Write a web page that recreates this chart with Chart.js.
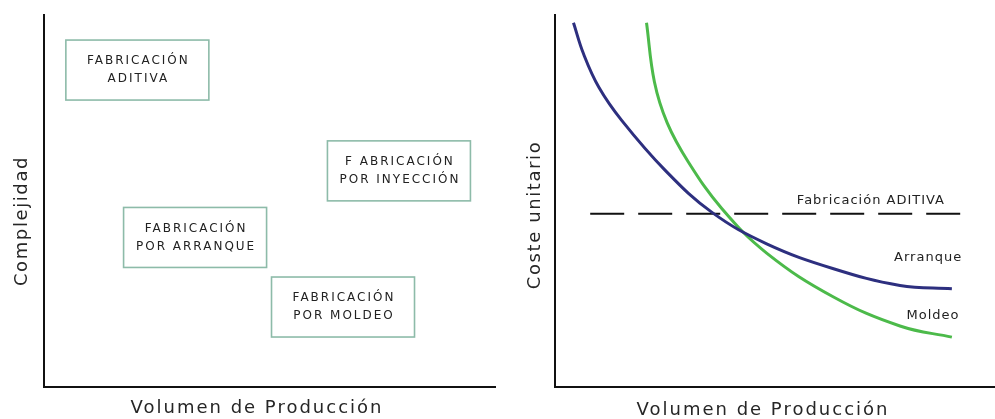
<!DOCTYPE html>
<html>
<head>
<meta charset="utf-8">
<script src="https://cdn.jsdelivr.net/npm/chart.js@4"></script>
<style>
  html, body { margin: 0; padding: 0; background: #fff; overflow: hidden; }
  .panel { position: absolute; top: 0; height: 419px; }
  #left { left: 0; width: 498px; }
  #right { left: 498px; width: 497px; }
</style>
</head>
<body>
<div class="panel" id="left"><canvas id="complexity-chart"></canvas></div>
<div class="panel" id="right"><canvas id="cost-chart"></canvas></div>
<script>
// left panel: processes placed by production volume (x) and complexity (y)
const processNames = [
  ["FABRICACIÓN", "ADITIVA"],
  ["F ABRICACIÓN", "POR INYECCIÓN"],
  ["FABRICACIÓN", "POR ARRANQUE"],
  ["FABRICACIÓN", "POR MOLDEO"]
];
const processVolume = [20.7, 78.7, 33.5, 66.3];
const processComplexity = [85.2, 58.1, 40.2, 21.5];

// right panel: unit cost against production volume
const arranqueVolume = [4.2, 6.5, 10.0, 15.2, 25.0, 35.6, 48.1, 63.3, 78.4, 90.2];
const arranqueCost = [97.9, 89.5, 80.5, 71.6, 58.3, 47.0, 38.5, 31.8, 27.3, 26.4];
const moldeoVolume = [20.8, 22.6, 25.5, 30.3, 37.9, 48.1, 63.3, 78.4, 90.2];
const moldeoCost = [97.9, 82.0, 71.0, 60.5, 48.0, 36.0, 24.2, 16.4, 13.4];
const aditivaVolume = [8.0, 93.2];
const aditivaCost = [46.6, 46.6];
const curveLabels = ["Fabricación ADITIVA", "Arranque", "Moldeo"];
const curveLabelVolume = [71.8, 84.8, 85.9];
const curveLabelCost = [50.1, 34.9, 19.3];

Chart.defaults.font.family = "'DejaVu Sans', sans-serif";
Chart.defaults.color = "#262626";

const toPoints = (xs, ys) => xs.map((x, i) => ({ x: x, y: ys[i] }));

function axis() {
  return {
    type: "linear",
    min: 0,
    max: 100,
    grid: { display: false, drawTicks: false },
    ticks: { display: false },
    border: { display: true, color: "#111", width: 2 }
  };
}

// axis titles, set a little off the middle like the original figure
const axisTitles = {
  id: "axisTitles",
  afterDraw(chart, args, opts) {
    const ctx = chart.ctx;
    const a = chart.chartArea;
    ctx.save();
    ctx.font = "18px 'DejaVu Sans', sans-serif";
    ctx.fillStyle = "#262626";
    ctx.textAlign = "center";
    ctx.textBaseline = "middle";
    ctx.letterSpacing = "2px";
    ctx.fillText(opts.x, (a.left + a.right) / 2 + opts.xShift, a.bottom + opts.xGap);
    ctx.translate(a.left - opts.yGap, (a.top + a.bottom) / 2 + opts.yShift);
    ctx.rotate(-Math.PI / 2);
    ctx.letterSpacing = "1.6px";
    ctx.fillText(opts.y, 0, 0);
    ctx.restore();
  }
};

// draws a framed two-line label around each point of the left chart
const processBoxes = {
  id: "processBoxes",
  afterDatasetsDraw(chart) {
    const ctx = chart.ctx;
    const meta = chart.getDatasetMeta(0);
    ctx.save();
    ctx.letterSpacing = "2px";
    ctx.font = "12px 'DejaVu Sans', sans-serif";
    ctx.textAlign = "center";
    ctx.textBaseline = "middle";
    meta.data.forEach((el, i) => {
      const w = 143, h = 60;
      ctx.fillStyle = "#fff";
      ctx.fillRect(el.x - w / 2, el.y - h / 2, w, h);
      ctx.strokeStyle = "#8dbba9";
      ctx.lineWidth = 1.6;
      ctx.strokeRect(el.x - w / 2, el.y - h / 2, w, h);
      ctx.fillStyle = "#222";
      ctx.fillText(processNames[i][0], el.x + 1, el.y - 9);
      ctx.fillText(processNames[i][1], el.x + 1, el.y + 9);
    });
    ctx.restore();
  }
};

// curve names on the right chart, placed through its scales
const curveNames = {
  id: "curveNames",
  afterDatasetsDraw(chart) {
    const ctx = chart.ctx;
    const xs = chart.scales.x, ys = chart.scales.y;
    ctx.save();
    ctx.letterSpacing = "1px";
    ctx.font = "13px 'DejaVu Sans', sans-serif";
    ctx.fillStyle = "#222";
    ctx.textAlign = "center";
    ctx.textBaseline = "middle";
    curveLabels.forEach((t, i) => {
      ctx.fillText(t, xs.getPixelForValue(curveLabelVolume[i]), ys.getPixelForValue(curveLabelCost[i]));
    });
    ctx.restore();
  }
};

new Chart(document.getElementById("complexity-chart"), {
  type: "scatter",
  data: {
    datasets: [{
      data: toPoints(processVolume, processComplexity),
      pointRadius: 0
    }]
  },
  options: {
    responsive: true,
    maintainAspectRatio: false,
    animation: false,
    layout: { padding: { left: 44, right: 3, top: 15, bottom: 32 } },
    plugins: {
      legend: { display: false },
      tooltip: { enabled: false },
      axisTitles: { x: "Volumen de Producción", y: "Complejidad", xShift: -12.5, xGap: 21.5, yShift: 20, yGap: 22 }
    },
    scales: { x: axis(), y: axis() }
  },
  plugins: [processBoxes, axisTitles]
});

new Chart(document.getElementById("cost-chart"), {
  type: "line",
  data: {
    datasets: [
      {
        label: "Arranque",
        data: toPoints(arranqueVolume, arranqueCost),
        borderColor: "#2d2f7f",
        borderWidth: 3,
        pointRadius: 0,
        tension: 0.4
      },
      {
        label: "Moldeo",
        data: toPoints(moldeoVolume, moldeoCost),
        borderColor: "#4cba4a",
        borderWidth: 3,
        pointRadius: 0,
        tension: 0.4
      },
      {
        label: "Fabricación ADITIVA",
        data: toPoints(aditivaVolume, aditivaCost),
        borderColor: "#111",
        borderWidth: 2,
        borderDash: [34, 14],
        pointRadius: 0
      }
    ]
  },
  options: {
    responsive: true,
    maintainAspectRatio: false,
    animation: false,
    layout: { padding: { left: 57, right: 0, top: 15, bottom: 32 } },
    plugins: {
      legend: { display: false },
      tooltip: { enabled: false },
      axisTitles: { x: "Volumen de Producción", y: "Coste unitario", xShift: -12, xGap: 23, yShift: 14, yGap: 20 }
    },
    scales: { x: axis(), y: axis() }
  },
  plugins: [curveNames, axisTitles]
});
</script>
</body>
</html>
